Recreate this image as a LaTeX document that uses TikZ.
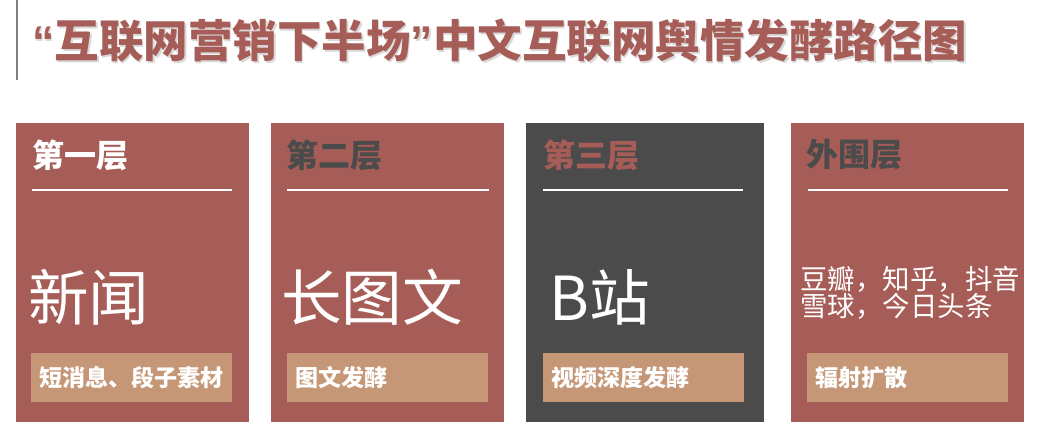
\documentclass[tikz,border=0pt]{standalone}
\usepackage{fontspec}
\setmainfont{Noto Sans CJK SC}
\newfontfamily\quotefont{Liberation Sans}
\usepackage{tikz}

\definecolor{brick}{HTML}{A65C57}
\definecolor{slate}{HTML}{4B4B4B}
\definecolor{sand}{HTML}{C59776}

\newcommand{\openq}{{\quotefont “}}
\newcommand{\closeq}{{\quotefont ”}}

\tikzset{
  card/.style={rectangle, anchor=north west, inner sep=0pt, minimum width=174.75pt, minimum height=224.25pt},
  head/.style={anchor=west, inner sep=0pt, font=\fontsize{24}{24}\selectfont\bfseries},
  big/.style={anchor=west, inner sep=0pt, text=white, font=\fontsize{45.5}{45.5}\selectfont},
  tag/.style={rectangle, anchor=north west, fill=sand, text=white, inner xsep=6pt, inner ysep=0pt,
    minimum height=36.75pt, text width=138.75pt, align=left, font=\fontsize{17.3}{17.3}\selectfont\bfseries},
  rule/.style={white, line width=0.8pt},
  banner/.style={anchor=west, inner sep=0pt, font=\fontsize{33.4}{33.4}\selectfont\bfseries}
}

\begin{document}
\begin{tikzpicture}[x=0.75pt, y=-0.75pt]
  \useasboundingbox (0,0) rectangle (1046,447);
  \coordinate (bar_top) at (17,0);
  \coordinate (bar_end) at (17,80);
  \draw [gray, line width=0.8pt] (bar_top) -- (bar_end);
  \node (title_shadow) [banner, text=black!15] at (33.5,42.5) {\openq 互联网营销下半场\closeq 中文互联网舆情发酵路径图};
  \node (title) [banner, text=brick] at (32,41) {\openq 互联网营销下半场\closeq 中文互联网舆情发酵路径图};

  \node (c1) [card, fill=brick] at (16,123) {};
  \node (c1_head) [head, text=white] at (32,155) {第一层};
  \coordinate (c1_a) at (32,190);
  \coordinate (c1_b) at (232,190);
  \draw [rule] (c1_a) -- (c1_b);
  \node (c1_big) [big] at (28,297) {新闻};
  \node (c1_tag) [tag] at (31,353) {短消息、段子素材};

  \node (c2) [card, fill=brick] at (271,123) {};
  \node (c2_head) [head, text=slate] at (286,155) {第二层};
  \coordinate (c2_a) at (287,190);
  \coordinate (c2_b) at (489,190);
  \draw [rule] (c2_a) -- (c2_b);
  \node (c2_big) [big] at (281,297) {长图文};
  \node (c2_tag) [tag] at (287,353) {图文发酵};

  \node (c3) [card, fill=slate, minimum width=178.5pt] at (526,123) {};
  \node (c3_head) [head, text=brick] at (543,155) {第三层};
  \coordinate (c3_a) at (543,190);
  \coordinate (c3_b) at (743,190);
  \draw [rule] (c3_a) -- (c3_b);
  \node (c3_big) [big] at (549,297) {B站};
  \node (c3_tag) [tag] at (543,353) {视频深度发酵};

  \node (c4) [card, fill=brick] at (791,123) {};
  \node (c4_head) [head, text=slate] at (806,155) {外围层};
  \coordinate (c4_a) at (808,190);
  \coordinate (c4_b) at (1008,190);
  \draw [rule] (c4_a) -- (c4_b);
  \node (c4_big) [big, align=left, font=\fontsize{20.6}{18.5}\selectfont] at (800,293) {豆瓣，知乎，抖音\\雪球，今日头条};
  \node (c4_tag) [tag] at (807,353) {辐射扩散};
\end{tikzpicture}
\end{document}
